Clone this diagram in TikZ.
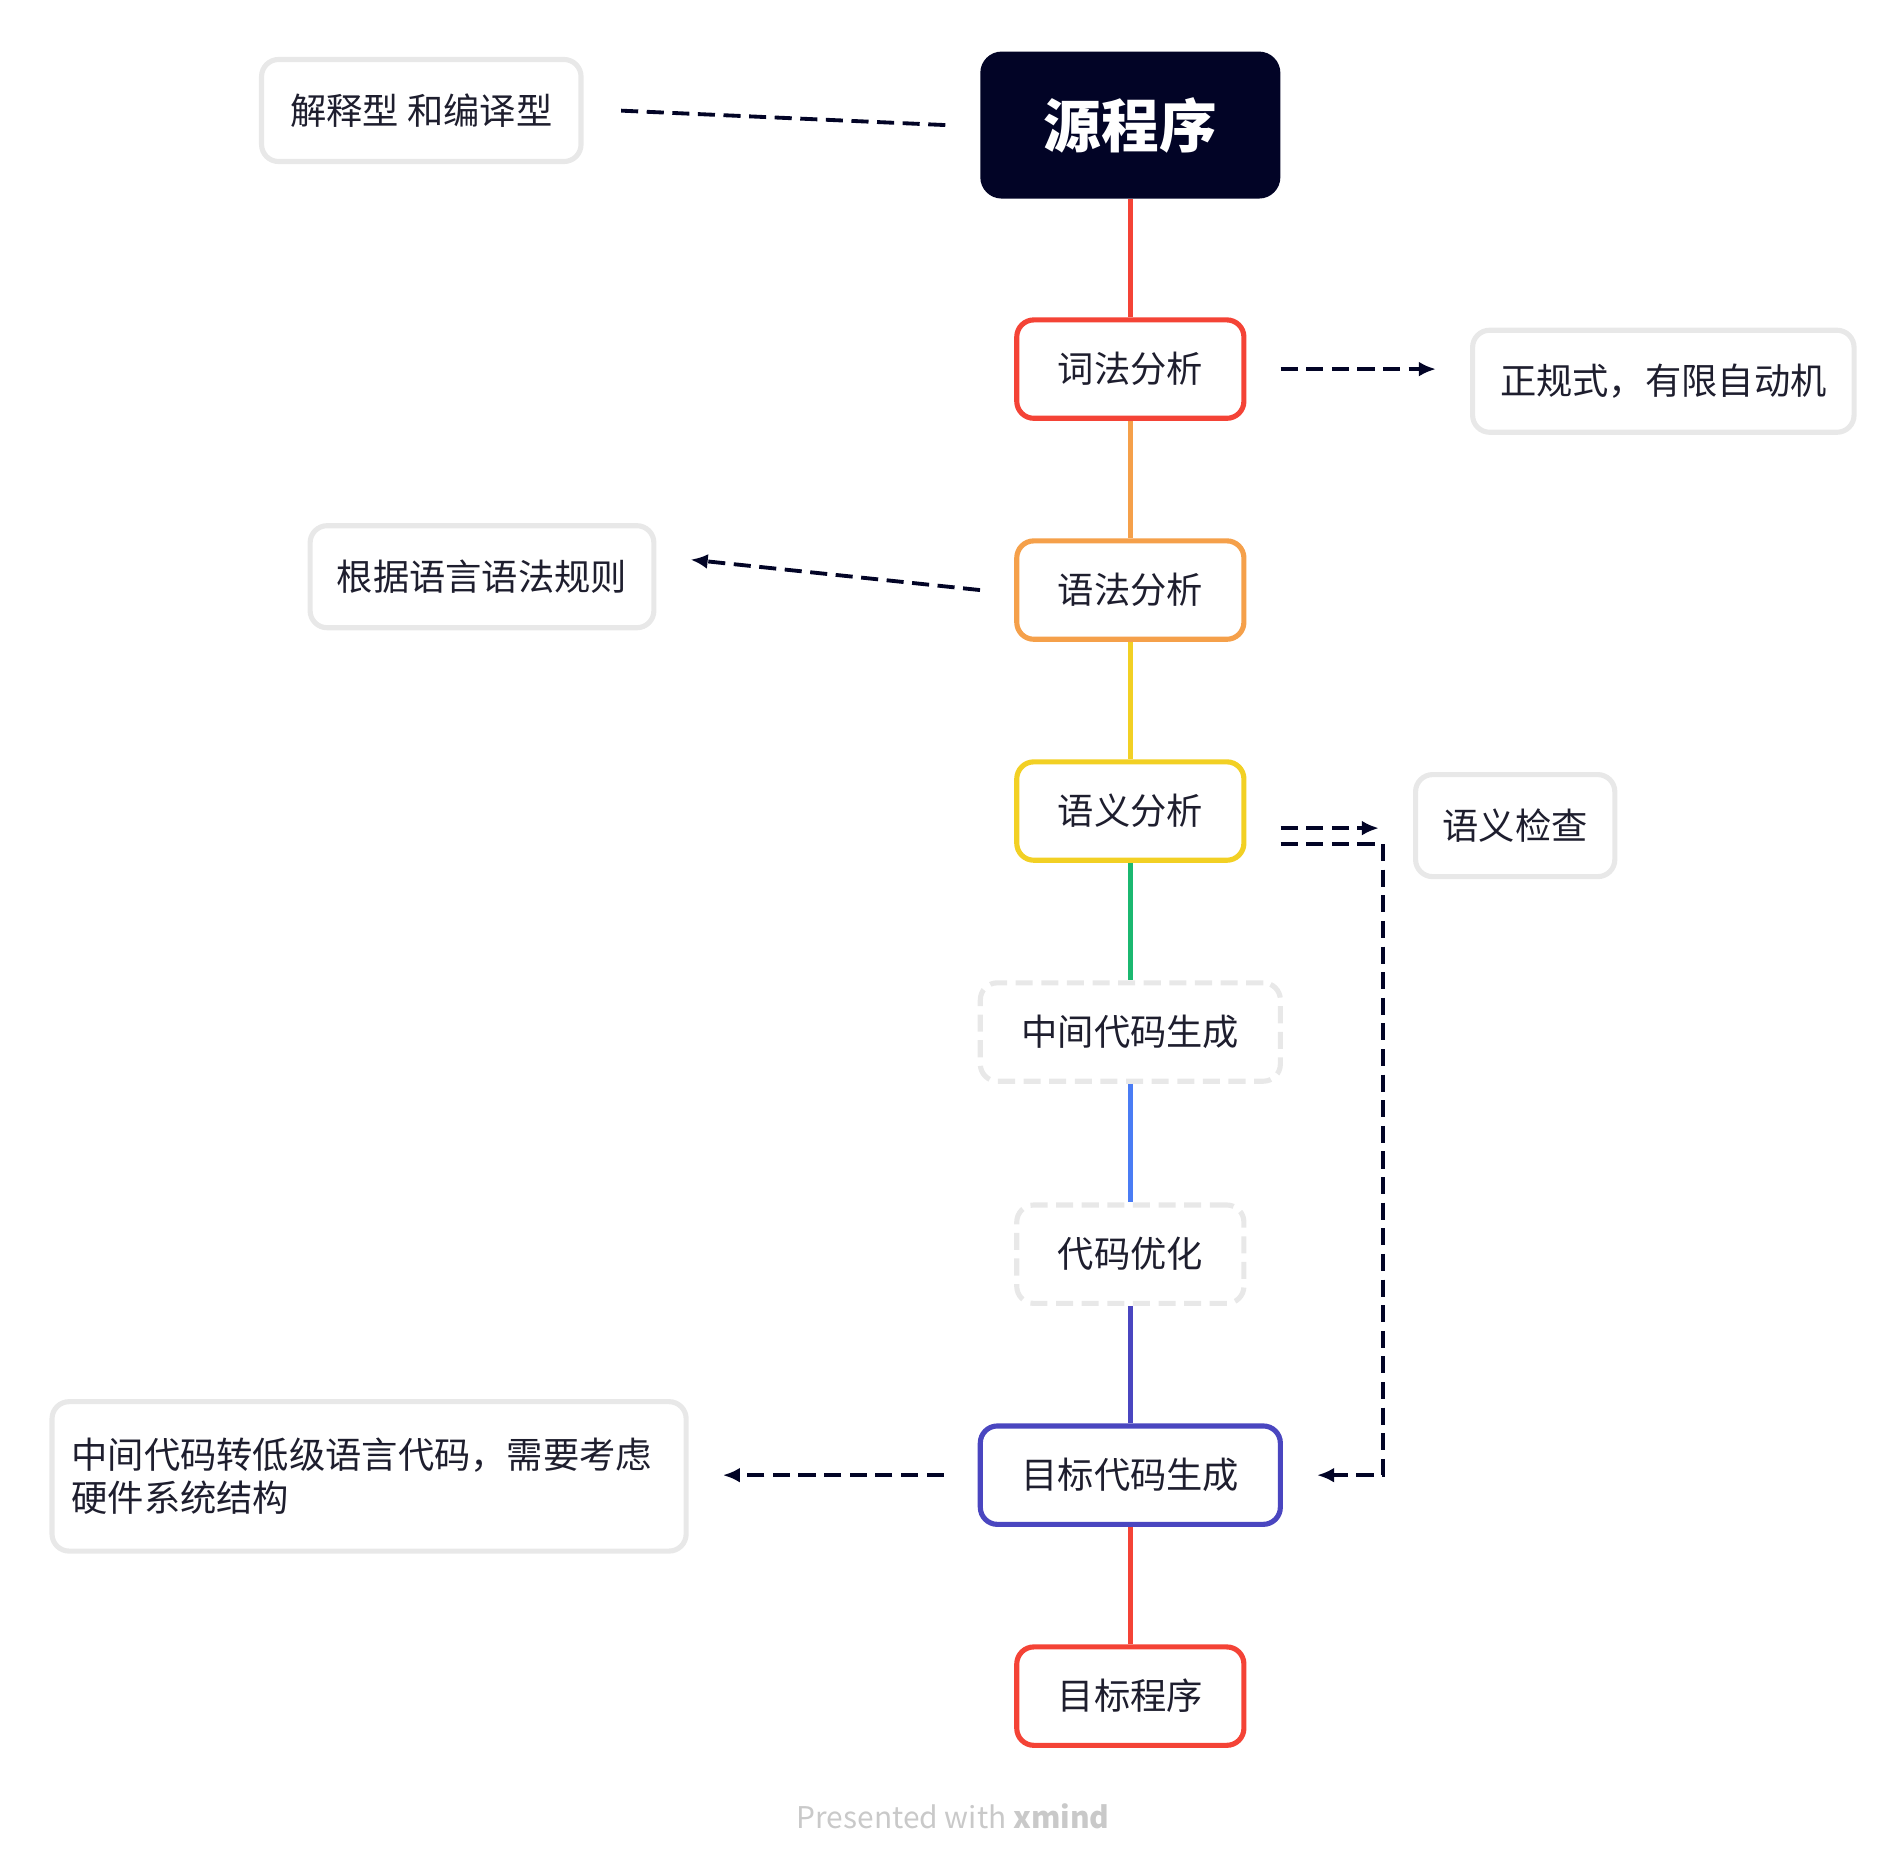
\documentclass[tikz,border=0pt]{standalone}
\usepackage{fontspec}
\setmainfont{Noto Sans CJK SC}
\usepackage{tikz}
\usetikzlibrary{arrows.meta,calc}
\definecolor{navy}{HTML}{020426}
\definecolor{boxgray}{HTML}{E8E8E8}
\definecolor{cred}{HTML}{F44336}
\definecolor{corange}{HTML}{F5A04A}
\definecolor{cyellow}{HTML}{F2D024}
\definecolor{cgreen}{HTML}{1BB870}
\definecolor{cblue}{HTML}{4A7CF4}
\definecolor{cindigo}{HTML}{4A46C0}
\definecolor{ctext}{HTML}{1E1E2E}
\begin{document}
\begin{tikzpicture}[x=0.01cm,y=-0.01cm,
    stage/.style={draw, line width=1.2pt, rounded corners=4pt, minimum width=1.87cm,
                  minimum height=0.81cm, font=\fontsize{8.5}{10}\selectfont, text=ctext},
    soft/.style={stage, dash pattern=on 4pt off 2pt, draw=boxgray},
    note/.style={draw=boxgray, line width=1.2pt, rounded corners=4pt,
                 minimum height=0.84cm, font=\fontsize{8.5}{10}\selectfont, text=ctext},
    link/.style={line width=1.2pt},
    aside/.style={navy, line width=0.9pt, dash pattern=on 4pt off 2pt},
    tip/.style={aside, -{Latex[length=4pt,width=3.5pt]}}
    ]
    \useasboundingbox (0,0) rectangle (1560,1529);
    % main chain -------------------------------------------------------
    \node[fill=navy, rounded corners=5pt, minimum width=2.47cm, minimum height=1.21cm,
          text=white, font=\fontsize{13.5}{15}\selectfont\bfseries] (src) at (931,103) {源程序};
    \node[stage, draw=cred]    (lex)  at (931,304)  {词法分析};
    \node[stage, draw=corange] (syn)  at (931,486)  {语法分析};
    \node[stage, draw=cyellow] (sem)  at (931,668)  {语义分析};
    \node[soft, minimum width=2.47cm] (ir) at (931,850) {中间代码生成};
    \node[soft]                (opt)  at (931,1033) {代码优化};
    \node[stage, draw=cindigo, minimum width=2.47cm] (gen) at (931,1215) {目标代码生成};
    \node[stage, draw=cred]    (tgt)  at (931,1397) {目标程序};
    \draw[link, cred]    (src) -- (lex);
    \draw[link, corange] (lex) -- (syn);
    \draw[link, cyellow] (syn) -- (sem);
    \draw[link, cgreen]  (sem) -- (ir);
    \draw[link, cblue]   (ir)  -- (opt);
    \draw[link, cindigo] (opt) -- (gen);
    \draw[link, cred]    (gen) -- (tgt);
    % side notes -------------------------------------------------------
    \node[note, minimum width=2.63cm] (kind)  at (347,91)   {解释型 和编译型};
    \node[note, minimum width=3.14cm] (regex) at (1370,314) {正规式，有限自动机};
    \node[note, minimum width=2.83cm] (rule)  at (397,475)  {根据语言语法规则};
    \node[note, minimum width=1.64cm] (check) at (1248,680) {语义检查};
    \node[note, minimum width=5.22cm, minimum height=1.23cm, align=left,
          text width=4.9cm] (hw) at (304,1216) {中间代码转低级语言代码，需要考虑\\硬件系统结构};
    \draw[aside] ([xshift=-8pt]src.west) -- ([xshift=8pt]kind.east);
    \draw[tip] ([xshift=8pt]lex.east) -- ([xshift=-8pt]regex.west |- lex.east);
    \draw[tip] ([xshift=-8pt]syn.west) -- ([xshift=8pt,yshift=4pt]rule.east);
    \draw[tip] ([xshift=8pt,yshift=-4pt]sem.east) -- ([xshift=-8pt,yshift=-4pt]check.west |- sem.east);
    \coordinate (bend) at (1139,695);
    \draw[tip] ([xshift=8pt]sem.east |- bend) -- (bend) -- (bend |- gen.east) -- ([xshift=8pt]gen.east);
    \draw[tip] ([xshift=-8pt]gen.west) -- ([xshift=8pt]hw.east |- gen.west);
    % footer -----------------------------------------------------------
    \node[text=boxgray!70!gray, font=\fontsize{7}{8}\selectfont] (foot) at (785,1496)
        {Presented with \textbf{xmind}};
\end{tikzpicture}
\end{document}
